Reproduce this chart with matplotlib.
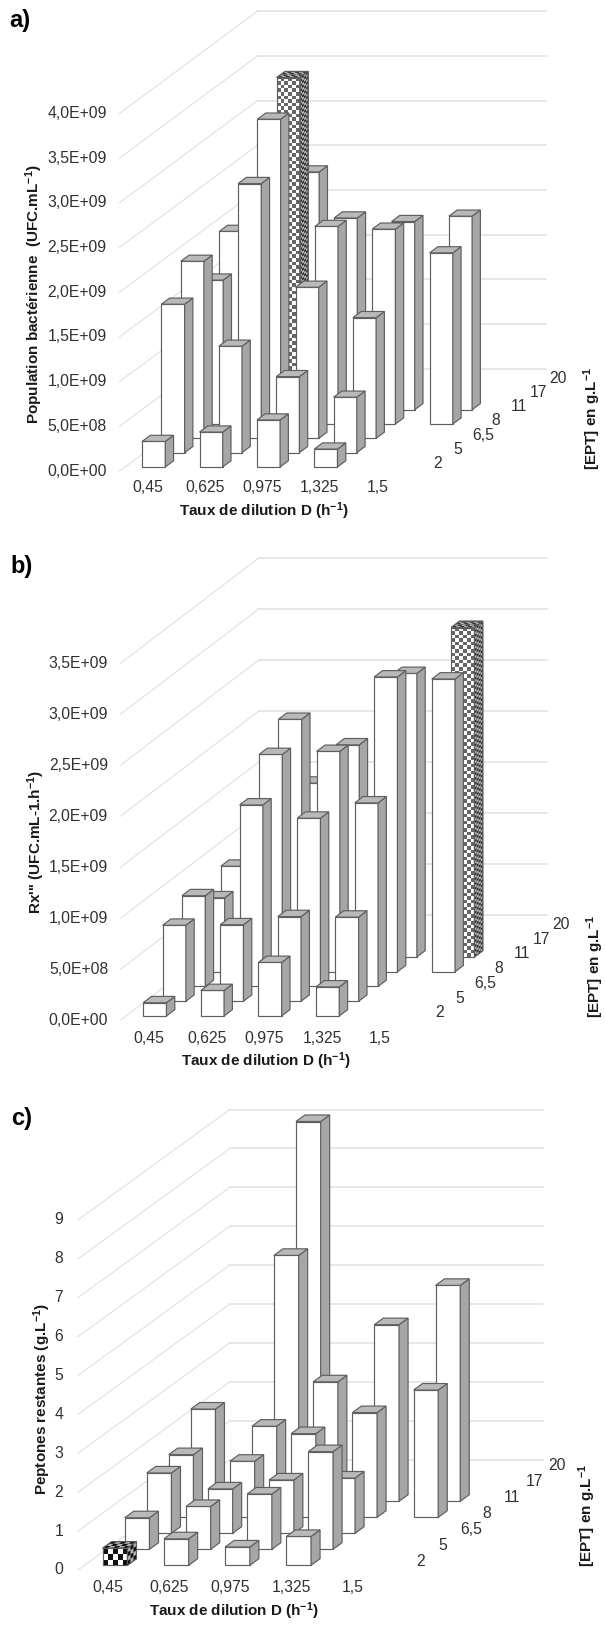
import numpy as np
import matplotlib
matplotlib.use('Agg')
import matplotlib.pyplot as plt
from matplotlib.patches import Polygon
from matplotlib.collections import PolyCollection

plt.rcParams['font.family'] = ['Liberation Sans', 'DejaVu Sans']
plt.rcParams['mathtext.fontset'] = 'custom'
plt.rcParams['mathtext.rm'] = 'Liberation Sans'
plt.rcParams['mathtext.bf'] = 'Liberation Sans:bold'

W, H = 605, 1629
nan = np.nan

dilution = ['0,45', '0,625', '0,975', '1,325', '1,5']
ept = ['2', '5', '6,5', '8', '11', '17', '20']

# a) population, in 1E+09 UFC/mL, one list per EPT row
pop_2 = [0.285, 0.39, 0.525, 0.20, nan]
pop_5 = [1.66, 1.19, 0.85, 0.62, nan]
pop_65 = [1.98, 2.85, 1.69, 1.35, nan]
pop_8 = [1.61, 3.41, 2.21, 2.18, 1.915]
pop_11 = [1.995, 3.715, 2.145, 2.105, 2.165]
pop_17 = [nan, 2.50, nan, nan, nan]
pop_20 = [nan, nan, nan, nan, nan]
pop_ticks = [0, 0.5, 1, 1.5, 2, 2.5, 3, 3.5, 4]
pop_labels = ['0,0E+00', '5,0E+08', '1,0E+09', '1,5E+09', '2,0E+09', '2,5E+09', '3,0E+09', '3,5E+09', '4,0E+09']

# b) Rx, in 1E+09
rx_2 = [0.13, 0.25, 0.525, 0.285, nan]
rx_5 = [0.745, 0.75, 0.83, 0.825, nan]
rx_65 = [0.89, 1.78, 1.65, 1.80, nan]
rx_8 = [0.725, 2.13, 2.16, 2.89, 2.87]
rx_11 = [0.89, 2.33, 2.08, 2.78, 3.23]
rx_17 = [nan, 1.56, nan, nan, nan]
rx_20 = [nan, nan, nan, nan, nan]
rx_ticks = [0, 0.5, 1, 1.5, 2, 2.5, 3, 3.5]
rx_labels = pop_labels[:8]

# c) remaining peptones, g/L
pep_2 = [0.44, 0.68, 0.47, 0.74, nan]
pep_5 = [0.81, 1.10, 1.42, 2.51, nan]
pep_65 = [1.55, 1.14, 1.37, 1.42, nan]
pep_8 = [1.61, 1.44, 2.15, 2.69, 3.27]
pep_11 = [2.37, 1.93, 3.07, 4.54, 5.55]
pep_17 = [nan, 5.91, nan, nan, nan]
pep_20 = [nan, 8.94, nan, nan, nan]
pep_ticks = list(range(10))
pep_labels = ['0', '1', '2', '3', '4', '5', '6', '7', '8', '9']

EDGE = '#5f5f5f'
SIDE = '#a6a6a6'
TOP = '#b9b9b9'
GRID = '#e0e0e0'
TEXT = '#303030'
TITLE = '#1a1a1a'


def ptext(fig, x, y, s, **kw):
    # place text with pixel coordinates, y going down
    kw.setdefault('ha', 'center')
    kw.setdefault('va', 'center')
    fig.text(x / W, 1 - y / H, s, **kw)


class Panel:
    def __init__(self, fig, top, bottom, x0, y0, cat, rx, ry, vs, dd, wall_d, wall_c):
        self.cat, self.rx, self.ry, self.vs = cat, rx, ry, vs
        self.dd, self.wall_d, self.wall_c = dd, wall_d, wall_c
        self.ax = fig.add_axes([0, 1 - bottom / H, 1, (bottom - top) / H])
        self.ax.set_xlim(-x0 / cat, (W - x0) / cat)
        self.ax.set_ylim((y0 - bottom) / vs, (y0 - top) / vs)
        self.ax.axis('off')

    def project(self, c, d, v):
        return c + d * self.rx / self.cat, v + d * self.ry / self.vs

    def walls(self, ticks):
        for v in ticks:
            xs, ys = zip(self.project(0, 0, v), self.project(0, self.wall_d, v))
            self.ax.plot(xs, ys, color=GRID, lw=0.8, zorder=1)
            xs, ys = zip(self.project(0, self.wall_d, v), self.project(self.wall_c, self.wall_d, v))
            self.ax.plot(xs, ys, color=GRID, lw=1.1, zorder=1)

    def checker(self, corners, nu, nv, dark):
        # corners: origin, end of u, end of v of a flat face
        o, u, v = [np.array(p) for p in corners]
        du, dv = (u - o) / nu, (v - o) / nv
        cells = []
        for a in range(nu):
            for b in range(nv):
                if (a + b) % 2 == 0:
                    p = o + a * du + b * dv
                    cells.append([p, p + du, p + du + dv, p + dv])
        self.ax.add_collection(PolyCollection(cells, facecolors=dark, edgecolors='none', zorder=self.z + 0.1))

    def bar(self, i, j, val, w=0.404, checks=None):
        dd = self.dd
        c0, c1 = i + 0.5 - w / 2, i + 0.5 + w / 2
        d0, d1 = j + 0.5 - dd / 2, j + 0.5 + dd / 2
        p = self.project
        front = [p(c0, d0, 0), p(c1, d0, 0), p(c1, d0, val), p(c0, d0, val)]
        side = [p(c1, d0, 0), p(c1, d1, 0), p(c1, d1, val), p(c1, d0, val)]
        top = [p(c0, d0, val), p(c1, d0, val), p(c1, d1, val), p(c0, d1, val)]
        self.z = 10 + (6 - j) * 10 + i
        fills = ('white', SIDE, TOP) if checks is None else ('white', '#b4b4b4', '#b4b4b4')
        for pts, fc in zip((front, side, top), fills):
            self.ax.add_patch(Polygon(pts, closed=True, facecolor=fc, edgecolor=EDGE, lw=0.85,
                                      joinstyle='miter', zorder=self.z))
        if checks is not None:
            size, dark, dark_side = checks
            nh = max(1, int(round(val * self.vs / size)))
            nw = max(1, int(round(w * self.cat / size)))
            nd = max(3, int(round(dd * self.rx / size * 1.6)))
            self.checker((front[0], front[1], front[3]), nw, nh, dark)
            self.checker((side[0], side[1], side[3]), nd, nh + nh // 2, dark_side)
            self.checker((top[0], top[1], top[3]), nw, nd, dark_side)
            for pts in (front, side, top):
                self.ax.add_patch(Polygon(pts, closed=True, fill=False, edgecolor=EDGE, lw=0.7, zorder=self.z + 0.2))

    def draw(self, rows, ticks, labels, highlight, tick_dx, cat_dx, cat_dy, row_dx):
        self.walls(ticks)
        for j, row in enumerate(rows):
            for i, val in enumerate(row):
                if np.isnan(val):
                    continue
                checks = highlight[1] if (i, j) == highlight[0] else None
                self.bar(i, j, val, checks=checks)
        for v, lab in zip(ticks, labels):
            self.ax.annotate(lab, self.project(0, 0, v), xytext=(tick_dx, 0), textcoords='offset pixels',
                             ha='right', va='center', fontsize=11.3, color=TEXT)
        for i, lab in enumerate(dilution):
            self.ax.annotate(lab, self.project(i + 0.5, 0, 0), xytext=(cat_dx, cat_dy), textcoords='offset pixels',
                             ha='center', va='center', fontsize=11.3, color=TEXT)
        for j, lab in enumerate(ept):
            self.ax.annotate(lab, self.project(5, j + 0.5, 0), xytext=(row_dx, 0), textcoords='offset pixels',
                             ha='left', va='center', fontsize=11.3, color=TEXT)


fig = plt.figure(figsize=(W / 100, H / 100), dpi=100)
bold = dict(fontweight='bold', fontsize=11, color=TITLE)
ept_title = r'[EPT] en g.L$\mathbf{^{-1}}$'
taux = r'Taux de dilution D (h$\mathbf{^{-1}}$)'

pa = Panel(fig, 0, 538, 119.5, 471, 57.4, 19.3, 14.3, 89.4, 0.43, 7.15, 5.02)
pa.draw([pop_2, pop_5, pop_65, pop_8, pop_11, pop_17, pop_20], pop_ticks, pop_labels,
        ((1, 4), (3.6, '#666666', '#333333')), -12.8, -0.5, -16, 17.5)
ptext(fig, 20, 21, 'a)', fontweight='bold', fontsize=17, color='black')
ptext(fig, 263.5, 511, taux, **bold)
ptext(fig, 34, 294, r'Population bactérienne  (UFC.mL$\mathbf{^{-1}}$)', rotation=90, **bold)
ptext(fig, 592, 419, ept_title, rotation=90, **bold)

pb = Panel(fig, 538, 1078, 120.5, 1020.2, 57.6, 19.4, 14.75, 102, 0.43, 7.1, 5.02)
pb.draw([rx_2, rx_5, rx_65, rx_8, rx_11, rx_17, rx_20], rx_ticks, rx_labels,
        ((4, 4), (3.6, '#666666', '#333333')), -12.5, 0, -18, 17.5)
ptext(fig, 22, 567, 'b)', fontweight='bold', fontsize=17, color='black')
ptext(fig, 266, 1061, taux, **bold)
ptext(fig, 36, 842, r"Rx''' (UFC.mL-1.h$\mathbf{^{-1}}$)", rotation=90, **bold)
ptext(fig, 595, 967, ept_title, rotation=90, **bold)

pc = Panel(fig, 1078, 1629, 78, 1570, 61.2, 22, 16, 38.9, 0.41, 6.9, 5.11)
pc.draw([pep_2, pep_5, pep_65, pep_8, pep_11, pep_17, pep_20], pep_ticks, pep_labels,
        ((0, 0), (5.2, '#111111', '#111111')), -15, -1, -18, 21)
ptext(fig, 22, 1118, 'c)', fontweight='bold', fontsize=17, color='black')
ptext(fig, 233.5, 1611, taux, **bold)
ptext(fig, 42, 1399, r'Peptones restantes (g.L$\mathbf{^{-1}}$)', rotation=90, **bold)
ptext(fig, 587, 1516, ept_title, rotation=90, **bold)

fig.savefig('out.png', dpi=100)
